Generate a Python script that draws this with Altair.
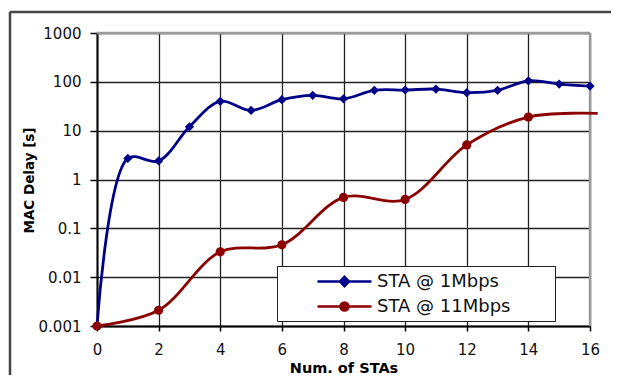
import altair as alt
import pandas as pd

# ---- data ----
series_names = ["STA @ 1Mbps", "STA @ 11Mbps"]
series_colors = ["#000088", "#8B0000"]

stations_1m = list(range(17))
delay_1m = [0.001, 2.7, 2.4, 12, 40, 26, 43, 53, 45, 67, 68, 71, 60, 67, 105, 90, 82]
marker_1m = [True] * 17

stations_11m = [0, 2, 4, 6, 8, 10, 12, 14, 16.25]
delay_11m = [0.001, 0.0021, 0.033, 0.046, 0.43, 0.39, 5.1, 19, 22.5]
marker_11m = [True] * 8 + [False]

x_ticks = [0, 2, 4, 6, 8, 10, 12, 14, 16]
y_ticks = [0.001, 0.01, 0.1, 1, 10, 100, 1000]

rows = []
for n, d, m in zip(stations_1m, delay_1m, marker_1m):
    rows.append({"n": n, "delay": d, "series": series_names[0], "marker": m})
for n, d, m in zip(stations_11m, delay_11m, marker_11m):
    rows.append({"n": n, "delay": d, "series": series_names[1], "marker": m})
df = pd.DataFrame(rows)

FONT = "DejaVu Sans"
W, H = 493, 293

x_axis = alt.Axis(
    values=x_ticks, title="Num. of STAs", titleY=46, titleBaseline="alphabetic",
    titleFontSize=14.5, tickSize=5, labelPadding=11, grid=True, labelFlush=False,
)
y_axis = alt.Axis(
    values=y_ticks, labelExpr="format(datum.value, '~g')", title="MAC Delay [s]",
    titleX=-64, titleY=147, titleAngle=270, titleBaseline="alphabetic", titleAlign="center",
    tickSize=7, labelPadding=9, titleFontSize=13.5, grid=True,
)
x_scale = alt.Scale(domain=[0, 16], nice=False, zero=False)
y_scale = alt.Scale(type="log", domain=[0.001, 1000], nice=False)

x_enc = alt.X("n:Q", scale=x_scale, axis=x_axis)
y_enc = alt.Y("delay:Q", scale=y_scale, axis=y_axis)

is_first = "datum.series === '%s'" % series_names[0]
cond_color = alt.condition(is_first, alt.value(series_colors[0]), alt.value(series_colors[1]))

base = alt.Chart(df)

lines = base.mark_line(interpolate="catmull-rom", strokeWidth=2.8).encode(
    x=x_enc, y=y_enc, detail="series:N", color=cond_color
)
points = base.transform_filter("datum.marker").mark_point(filled=True, size=85, opacity=1).encode(
    x=x_enc, y=y_enc, detail="series:N", color=cond_color,
    shape=alt.condition(is_first, alt.value("diamond"), alt.value("circle")),
)

# legend-only layer (no rows): line + marker symbols
diamond_path = "M-3,0L3,0M0,-0.52L0.5,0L0,0.52L-0.5,0Z"
circle_path = ("M-3,0L3,0M0.45,0C0.45,0.249,0.249,0.45,0,0.45C-0.249,0.45,-0.45,0.249,-0.45,0"
               "C-0.45,-0.249,-0.249,-0.45,0,-0.45C0.249,-0.45,0.45,-0.249,0.45,0Z")
lg = alt.Legend(title="\u00a0", titleOrient="right", titlePadding=40, titleFontSize=2)
legend_layer = base.transform_filter("false").mark_point(
    filled=True, size=324, strokeWidth=2.5, opacity=1
).encode(
    color=alt.Color("series:N", scale=alt.Scale(domain=series_names, range=series_colors), legend=lg),
    stroke=alt.Stroke("series:N", scale=alt.Scale(domain=series_names, range=series_colors), legend=lg),
    shape=alt.Shape("series:N", scale=alt.Scale(domain=series_names, range=[diamond_path, circle_path]), legend=lg),
)

one = alt.Data(values=[{"k": 0}])
frame_right = alt.Chart(one).mark_rule(color="#9a9a9a", strokeWidth=2.5).encode(
    x=alt.X(datum=16, scale=x_scale, axis=x_axis), y=alt.value(0), y2=alt.value(H)
)
frame_top = alt.Chart(one).mark_rule(color="#9a9a9a", strokeWidth=2.5).encode(
    y=alt.Y(datum=1000, scale=y_scale, axis=y_axis), x=alt.value(0), x2=alt.value(W)
)
outer_top = alt.Chart(one).mark_rule(color="#444", strokeWidth=2.5).encode(
    x=alt.value(-87), x2=alt.value(530), y=alt.value(-21)
)
outer_left = alt.Chart(one).mark_rule(color="#444", strokeWidth=2.5).encode(
    x=alt.value(-87), y=alt.value(-21), y2=alt.value(400)
)

chart = (
    alt.layer(outer_top, outer_left, frame_right, frame_top, lines, points, legend_layer)
    .properties(
        width=W, height=H,
        padding={"left": 89, "top": 25, "right": 21, "bottom": 49},
        autosize=alt.AutoSizeParams(type="none"),
        background="white",
    )
    .configure_view(stroke=None)
    .configure_axis(
        grid=True,
        domainColor="#000", domainWidth=2, tickColor="#000", tickWidth=1.5,
        gridColor="#222", gridWidth=1.3, gridOpacity=1,
        labelFont=FONT, labelFontSize=15, labelColor="#111",
        titleFont=FONT, titleFontSize=15, titleFontWeight="bold", titleColor="#000",
    )
    .configure_legend(
        orient="none", legendX=180, legendY=233,
        padding=5, rowPadding=4, symbolOffset=52, labelOffset=22,
        symbolSize=324, symbolStrokeWidth=2.5,
        labelFont=FONT, labelFontSize=18, labelColor="#111", labelLimit=300,
        strokeColor="#222", fillColor="white",
    )
)

chart.save("out.html", embed_options={"renderer": "svg", "actions": False})
